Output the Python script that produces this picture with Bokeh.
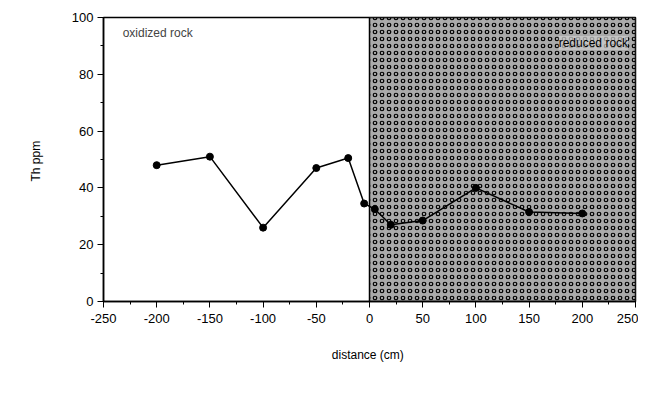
from bokeh.plotting import figure
from bokeh.models import Range1d, FixedTicker, Label
from bokeh.embed import file_html
from bokeh.resources import INLINE

distance = [-200, -150, -100, -50, -20, -5, 5, 20, 50, 100, 150, 200]
th_ppm = [48, 51, 26, 47, 50.5, 34.5, 32.5, 27, 28.5, 40, 31.5, 31]
x_ticks = [-250, -200, -150, -100, -50, 0, 50, 100, 150, 200, 250]
y_ticks = [0, 20, 40, 60, 80, 100]
reduced_zone = [0, 250]

p = figure(width=638, height=387, output_backend="svg", toolbar_location=None,
           x_range=Range1d(-250, 250), y_range=Range1d(0, 100))
p.min_border_left = 103
p.min_border_right = 3
p.min_border_top = 17
p.min_border_bottom = 86
p.background_fill_color = "white"
p.border_fill_color = "white"
p.outline_line_color = "black"
p.outline_line_width = 1.5
p.grid.visible = False

p.quad(left=[reduced_zone[0]], right=[reduced_zone[1]], bottom=[0], top=[100],
       fill_color="#aaaaaa", line_color="black", line_width=1.5,
       hatch_pattern="ring", hatch_color="black", hatch_scale=7, hatch_weight=1.2)

p.line(distance, th_ppm, line_color="black", line_width=1.5)
p.scatter(distance, th_ppm, size=7, fill_color="black", line_color="black")

font = "Liberation Sans"
p.xaxis.ticker = FixedTicker(ticks=x_ticks, minor_ticks=list(range(-250, 251, 25)))
p.yaxis.ticker = FixedTicker(ticks=y_ticks, minor_ticks=list(range(0, 101, 10)))
p.xaxis.major_label_overrides = {t: str(t) for t in x_ticks}
p.yaxis.major_label_overrides = {t: str(t) for t in y_ticks}
for ax in (p.xaxis[0], p.yaxis[0]):
    ax.axis_line_color = "black"
    ax.axis_line_width = 1.5
    ax.major_tick_in = 0
    ax.major_tick_out = 6
    ax.minor_tick_in = 0
    ax.minor_tick_out = 3
    ax.major_tick_line_color = "black"
    ax.minor_tick_line_color = "black"
    ax.major_label_text_font = font
    ax.major_label_text_font_size = "13px"
    ax.major_label_text_color = "black"
    ax.axis_label_text_font = font
    ax.axis_label_text_font_size = "12px"
    ax.axis_label_text_font_style = "normal"
    ax.axis_label_text_color = "black"

p.xaxis.axis_label = "distance  (cm)"
p.yaxis.axis_label = "Th  ppm"
p.xaxis.axis_label_standoff = 22
p.yaxis.axis_label_standoff = 26
p.xaxis.major_label_standoff = 6
p.yaxis.major_label_standoff = 4

p.add_layout(Label(x=-232, y=94.5, text="oxidized rock", text_font=font,
                   text_font_size="12px", text_baseline="middle", text_align="left"))
p.add_layout(Label(x=243, y=91, text="reduced rock", text_font=font,
                   text_font_size="12px", text_baseline="middle", text_align="right",
                   text_color="black",
                   background_fill_color="#cccccc", background_fill_alpha=0.75))

open("out.html", "w").write(file_html(p, INLINE))
